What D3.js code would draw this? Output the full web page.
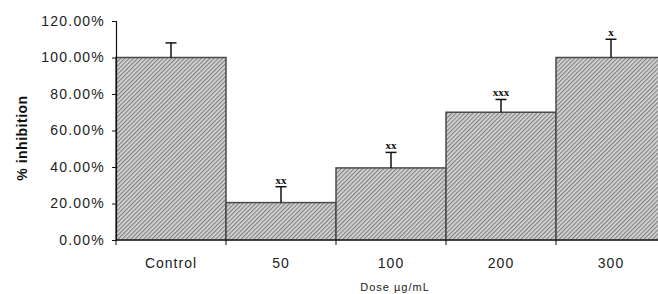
<!DOCTYPE html>
<html><head><meta charset="utf-8">
<script src="https://cdn.jsdelivr.net/npm/d3@7"></script>
<style>body{margin:0;background:#fff}svg{display:block}text{font-family:Arial,"Liberation Sans",sans-serif}</style>
</head><body><div id="c"></div>
<script>
const categories = ["Control", "50", "100", "200", "300"];
const values = [100, 20.5, 39.5, 70, 100];
const errors = [8, 8.7, 8.5, 7, 10];
const marks = ["", "xx", "xx", "xxx", "x"];
const yTicks = [0, 20, 40, 60, 80, 100, 120];

const W = 658, H = 294;
const svg = d3.select("#c").append("svg").attr("width", W).attr("height", H);
const x0 = 116, x1 = 666, yTop = 21, yBot = 240;
const x = d3.scaleBand().domain(categories).range([x0, x1]).padding(0);
const y = d3.scaleLinear().domain([0, 120]).range([yBot, yTop]);

const defs = svg.append("defs");
const pat = defs.append("pattern").attr("id", "hatch").attr("patternUnits", "userSpaceOnUse")
  .attr("width", 3).attr("height", 3).attr("patternTransform", "rotate(45)");
pat.append("rect").attr("width", 3).attr("height", 3).attr("fill", "#d8d8d8");
pat.append("rect").attr("width", 1.2).attr("height", 3).attr("fill", "#808080");

// bars
svg.selectAll("rect.bar").data(categories).enter().append("rect")
  .attr("x", d => x(d)).attr("y", (d, i) => y(values[i]))
  .attr("width", x.bandwidth()).attr("height", (d, i) => y(0) - y(values[i]))
  .attr("fill", "url(#hatch)").attr("stroke", "#4a4a4a").attr("stroke-width", 1.5);

// error bars
const eb = svg.append("g").attr("stroke", "#111").attr("stroke-width", 1.5);
categories.forEach((c, i) => {
  const cx = x(c) + x.bandwidth() / 2;
  eb.append("line").attr("x1", cx).attr("x2", cx).attr("y1", y(values[i])).attr("y2", y(values[i] + errors[i]));
  eb.append("line").attr("x1", cx - 5.5).attr("x2", cx + 5.5).attr("y1", y(values[i] + errors[i])).attr("y2", y(values[i] + errors[i]));
  if (marks[i]) {
    svg.append("text").attr("x", cx).attr("y", y(values[i] + errors[i]) - 3)
      .attr("text-anchor", "middle").attr("font-size", 11).attr("font-weight", "bold")
      .style("font-family", "'Liberation Serif','DejaVu Serif',serif").attr("fill", "#111")
      .text(marks[i]);
  }
});

// y axis
const ya = svg.append("g").attr("transform", `translate(${x0},0)`)
  .call(d3.axisLeft(y).tickValues(yTicks).tickSize(4).tickPadding(7).tickFormat(d => d.toFixed(2) + "%"));
ya.select(".domain").attr("stroke", "#111").attr("stroke-width", 1.2);
ya.selectAll(".tick line").attr("stroke", "#111");
ya.selectAll("text").attr("font-size", 14).attr("letter-spacing", 1.2).attr("fill", "#222")
  .style("font-family", "Arial,'Liberation Sans',sans-serif");

// x axis
const xa = svg.append("g").attr("transform", `translate(0,${yBot})`);
xa.append("line").attr("x1", x0).attr("x2", x1).attr("stroke", "#111").attr("stroke-width", 1.2);
xa.selectAll("line.t").data(categories.concat(["_end"])).enter().append("line")
  .attr("x1", (d, i) => x0 + i * x.bandwidth()).attr("x2", (d, i) => x0 + i * x.bandwidth())
  .attr("y1", 0).attr("y2", 5).attr("stroke", "#111");
xa.selectAll("text").data(categories).enter().append("text")
  .attr("x", d => x(d) + x.bandwidth() / 2).attr("y", 28)
  .attr("text-anchor", "middle").attr("font-size", 14).attr("fill", "#222")
  .attr("letter-spacing", 1).text(d => d);

// axis titles
svg.append("text").attr("x", 395).attr("y", 291).attr("text-anchor", "middle")
  .attr("font-size", 11).attr("letter-spacing", 1).attr("fill", "#222").text("Dose µg/mL");
svg.append("text").attr("transform", "translate(27,138) rotate(-90)").attr("text-anchor", "middle")
  .attr("font-size", 14).attr("font-weight", "bold").attr("letter-spacing", 0.5).attr("fill", "#111").text("% inhibition");
</script></body></html>
